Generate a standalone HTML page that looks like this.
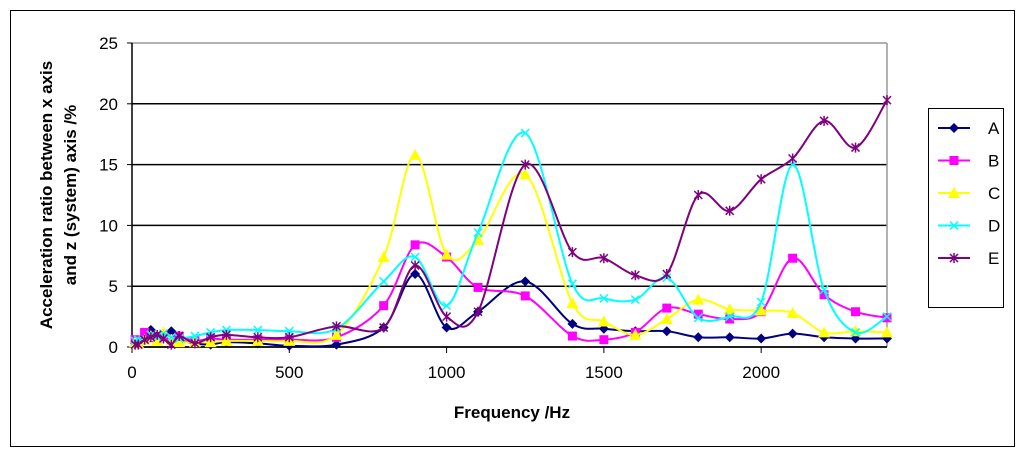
<!DOCTYPE html>
<html><head><meta charset="utf-8"><style>
body{margin:0;background:#fff;}
svg text{font-family:"Liberation Sans",Arial,sans-serif;}
</style></head><body>
<svg width="1024" height="457" viewBox="0 0 1024 457" xmlns="http://www.w3.org/2000/svg">
<rect x="10.5" y="10.5" width="1004" height="436" fill="#fff" stroke="#000" stroke-width="1"/>
<g id="grid"></g>
<g id="axes"></g>
<g id="series"></g>
<text x="512" y="418" text-anchor="middle" font-size="17" font-weight="bold">Frequency /Hz</text>
<text transform="translate(52,195) rotate(-90)" text-anchor="middle" font-size="17" font-weight="bold"><tspan x="0" dy="0">Acceleration ratio between x axis</tspan><tspan x="0" dy="24">and z (system) axis  /%</tspan></text>
<rect x="928.5" y="108.5" width="75" height="199" fill="#fff" stroke="#000"/>
<g id="legend"></g>
</svg>
<script>
const freqs=[10,20,40,60,80,100,125,150,200,250,300,400,500,650,800,900,1000,1100,1250,1400,1500,1600,1700,1800,1900,2000,2100,2200,2300,2400];
const seriesA=[0.3,0.4,0.8,1.4,0.9,0.8,1.3,0.6,0.3,0.2,0.4,0.3,0.1,0.2,1.6,6.0,1.6,2.9,5.4,1.9,1.5,1.3,1.3,0.8,0.8,0.7,1.1,0.8,0.7,0.7];
const seriesB=[0.6,0.3,1.2,0.8,0.6,0.9,0.7,0.9,0.5,0.7,0.6,0.6,0.6,0.8,3.4,8.4,7.4,4.9,4.2,0.9,0.6,1.2,3.2,2.7,2.3,2.9,7.3,4.3,2.9,2.4];
const seriesC=[0.4,0.3,0.6,0.9,0.5,1.2,0.6,0.4,0.4,0.4,0.5,0.5,0.5,1.0,7.4,15.8,7.6,8.8,14.2,3.6,2.1,1.0,2.3,3.9,3.1,3.0,2.8,1.2,1.3,1.2];
const seriesD=[0.5,0.6,0.6,1.0,0.8,1.1,0.8,0.7,0.9,1.2,1.4,1.4,1.3,1.5,5.4,7.4,3.4,9.4,17.6,5.2,4.0,3.9,5.7,2.4,2.5,3.7,15.0,4.7,1.2,2.5];
const seriesE=[0.2,0.2,0.6,0.8,1.0,0.7,0.2,0.9,0.3,0.8,1.0,0.8,0.8,1.7,1.6,6.7,2.5,2.9,15.0,7.8,7.3,5.9,6.0,12.5,11.2,13.8,15.5,18.6,16.4,20.3];
const seriesNames=["A","B","C","D","E"];
const seriesColors=["#000080","#ff00ff","#ffff00","#00ffff","#800080"];
const xTicks=[0,500,1000,1500,2000];
const yTicks=[0,5,10,15,20,25];
const allSeries=[seriesA,seriesB,seriesC,seriesD,seriesE];
const NS="http://www.w3.org/2000/svg";
const X0=132,X1=887,Y0=347,Y1=43;
function xs(v){return X0+(v/2400)*(X1-X0);}
function ys(v){return Y0-(v/25)*(Y0-Y1);}
function mk(tag,attrs,parent){const e=document.createElementNS(NS,tag);for(const k in attrs)e.setAttribute(k,attrs[k]);parent.appendChild(e);return e;}
const grid=document.getElementById('grid'),axes=document.getElementById('axes'),ser=document.getElementById('series'),leg=document.getElementById('legend');
yTicks.forEach(t=>{
  const l=mk('line',{x1:X0,x2:X1,y1:ys(t),y2:ys(t),stroke:t===25?'#999':'#000','stroke-width':1.5},grid);
  
  
  const tk=mk('line',{x1:X0-5,x2:X0,y1:ys(t),y2:ys(t),stroke:'#000'},axes);
  
  
  const tx=mk('text',{x:118,y:ys(t)+6,'text-anchor':'end','font-size':17},axes);
  tx.textContent=t;
  
  
});
const rb=mk('line',{x1:X1,x2:X1,y1:Y1,y2:Y0,stroke:'#999','stroke-width':1.5},grid);


const ya=mk('line',{x1:X0,x2:X0,y1:Y1,y2:Y0,stroke:'#000','stroke-width':1.5},axes);


const xa=mk('line',{x1:X0,x2:X1,y1:Y0,y2:Y0,stroke:'#000','stroke-width':1.5},axes);


xTicks.forEach(t=>{
  const tk=mk('line',{x1:xs(t),x2:xs(t),y1:Y0,y2:Y0+6,stroke:'#000'},axes);
  
  
  const tx=mk('text',{x:xs(t),y:Y0+31,'text-anchor':'middle','font-size':17},axes);
  tx.textContent=t;
  
  
});
function smooth(pts){
  let d='M'+pts[0][0]+','+pts[0][1];
  for(let i=0;i<pts.length-1;i++){
    const p0=pts[Math.max(0,i-1)],p1=pts[i],p2=pts[i+1],p3=pts[Math.min(pts.length-1,i+2)];
    const t=6;
    d+=' C'+(p1[0]+(p2[0]-p0[0])/t)+','+(p1[1]+(p2[1]-p0[1])/t)+' '+(p2[0]-(p3[0]-p1[0])/t)+','+(p2[1]-(p3[1]-p1[1])/t)+' '+p2[0]+','+p2[1];
  }
  return d;
}
function marker(type,x,y,c,parent){
  let e;
  if(type===0){e=mk('polygon',{points:`${x},${y-5} ${x+5},${y} ${x},${y+5} ${x-5},${y}`,fill:c},parent);}
  else if(type===1){e=mk('rect',{x:x-4.5,y:y-4.5,width:9,height:9,fill:c},parent);}
  else if(type===2){e=mk('polygon',{points:`${x},${y-6} ${x+6},${y+5} ${x-6},${y+5}`,fill:c},parent);}
  else if(type===3){e=mk('path',{d:`M${x-4},${y-4}L${x+4},${y+4}M${x+4},${y-4}L${x-4},${y+4}`,stroke:c,'stroke-width':1.5,fill:'none'},parent);}
  else {e=mk('path',{d:`M${x-4},${y-4}L${x+4},${y+4}M${x+4},${y-4}L${x-4},${y+4}M${x},${y-5}L${x},${y+5}`,stroke:c,'stroke-width':1.5,fill:'none'},parent);}
  return e;
}
allSeries.forEach((s,k)=>{
  const g=mk('g',{},ser);
  
  
  const pts=freqs.map((f,i)=>[xs(f),ys(s[i])]);
  const p=mk('path',{d:smooth(pts),fill:'none',stroke:seriesColors[k],'stroke-width':2},g);
  
  
  pts.forEach((pt,i)=>{
    const m=marker(k,pt[0],pt[1],seriesColors[k],g);
    
    
  });
  const ly=128+k*32.5;
  const le=mk('g',{},leg);
  
  
  mk('line',{x1:938,x2:970,y1:ly,y2:ly,stroke:seriesColors[k],'stroke-width':2},le);
  marker(k,954,ly,seriesColors[k],le);
  const t=mk('text',{x:988,y:ly+6,'font-size':17},le);
  t.textContent=seriesNames[k];
});
</script>
</body></html>
